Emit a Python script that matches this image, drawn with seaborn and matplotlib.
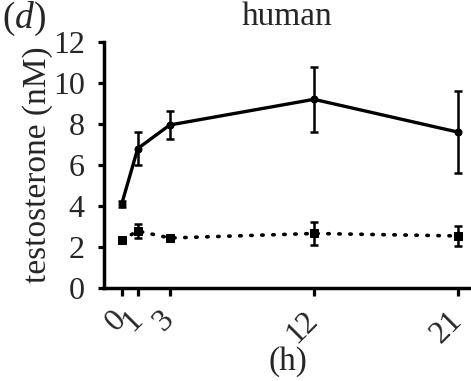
import numpy as np
import pandas as pd
import matplotlib
matplotlib.use("Agg")
import matplotlib.pyplot as plt
import seaborn as sns

# data
hours = [0, 1, 3, 12, 21]
treated_mean = [4.1, 6.8, 7.95, 9.2, 7.6]
treated_err = [0.15, 0.8, 0.7, 1.6, 2.0]
control_mean = [2.34, 2.78, 2.44, 2.66, 2.54]
control_err = [0.0, 0.35, 0.15, 0.55, 0.48]

sns.set_theme(style="ticks")
plt.rcParams["font.family"] = ["Liberation Serif", "DejaVu Serif"]
plt.rcParams["mathtext.fontset"] = "custom"
plt.rcParams["mathtext.it"] = "Liberation Serif:italic"
plt.rcParams["mathtext.rm"] = "Liberation Serif"

df_t = pd.DataFrame({"h": hours, "val": treated_mean})
df_c = pd.DataFrame({"h": hours, "val": control_mean})

fig = plt.figure(figsize=(4.71, 3.81), dpi=100)
ax = fig.add_axes([0.221, 0.244, 0.779, 0.646])

sns.lineplot(data=df_t, x="h", y="val", ax=ax, color="black", lw=2.4,
             marker="o", markersize=5, markeredgecolor="black")
ax.errorbar(hours, treated_mean, yerr=treated_err, fmt="none", ecolor="black",
            elinewidth=1.8, capsize=3, capthick=1.8)

sns.lineplot(data=df_c, x="h", y="val", ax=ax, color="black", lw=2.6,
             marker="s", markersize=6, markeredgecolor="black")
ax.lines[-1].set_linestyle((0, (0.4, 2.65)))
ax.lines[-1].set_dash_capstyle("round")
ax.errorbar(hours, control_mean, yerr=control_err, fmt="none", ecolor="black",
            elinewidth=1.8, capsize=3, capthick=1.8)

ax.set_xlim(-1.1, 21.8)
ax.set_ylim(0, 12)
ax.set_yticks([0, 2, 4, 6, 8, 10, 12])
ax.set_xticks(hours)
ax.set_xticklabels([str(h) for h in hours], rotation=45, ha="right", va="center",
                   rotation_mode="anchor", fontsize=23)
ax.tick_params(axis="y", labelsize=23, width=2.3, length=4, pad=10, color="black")
ax.tick_params(axis="x", width=2.3, length=6, pad=14, color="black")

sns.despine(ax=ax)
ax.spines["left"].set_linewidth(2.5)
ax.spines["bottom"].set_linewidth(2.5)
ax.spines["left"].set_color("black")
ax.spines["bottom"].set_color("black")

ax.set_xlabel("(h)", fontsize=24)
ax.xaxis.set_label_coords(0.5, -0.235)
ax.set_ylabel("testosterone (nM)", fontsize=24, labelpad=0)
fig.text(0.61, 0.955, "human", fontsize=24, ha="center", va="center")
fig.text(0.005, 0.95, r"($\mathit{d}$)", fontsize=27, ha="left", va="center")

fig.savefig("out.png", dpi=100)
